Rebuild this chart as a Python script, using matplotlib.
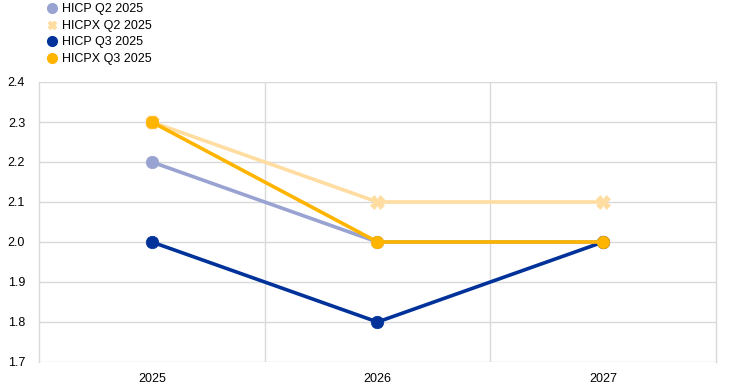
import matplotlib
matplotlib.use("Agg")
import matplotlib.pyplot as plt
from matplotlib.lines import Line2D

plt.rcParams['font.family'] = ['Liberation Sans', 'DejaVu Sans']

categories = ["2025", "2026", "2027"]
hicp_q2 = [2.2, 2.0, 2.0]
hicpx_q2 = [2.3, 2.1, 2.1]
hicp_q3 = [2.0, 1.8, 2.0]
hicpx_q3 = [2.3, 2.0, 2.0]
yticks = [1.7, 1.8, 1.9, 2.0, 2.1, 2.2, 2.3, 2.4]

series = [
    ("HICP Q2 2025", hicp_q2, "#99A3D1", "o"),
    ("HICPX Q2 2025", hicpx_q2, "#FFDCA0", "X"),
    ("HICP Q3 2025", hicp_q3, "#003299", "o"),
    ("HICPX Q3 2025", hicpx_q3, "#FFB400", "o"),
]

fig = plt.figure(figsize=(7.44, 3.90), dpi=100)
ax = fig.add_axes([39/744, 28/390, 677/744, 280/390])
x = list(range(len(categories)))
for name, vals, col, mk in series:
    ax.plot(x, vals, color=col, lw=2.6, marker=mk, ms=9 if mk == "o" else 10,
            markeredgewidth=0.5, markeredgecolor=col, zorder=3)

ax.set_xlim(-0.5, 2.5)
ax.set_ylim(1.7, 2.4)
ax.set_yticks(yticks)
ax.set_yticklabels([f"{v:.1f}" for v in yticks])
ax.set_xticks(x)
ax.set_xticklabels(categories)
ax.set_xticks([0.5, 1.5], minor=True)
ax.grid(False)
for v in yticks:
    ax.axhline(v, color="#D9D9D9", lw=1, zorder=1)
ax.grid(True, which="minor", axis="x", color="#D9D9D9", lw=1, zorder=1)
ax.tick_params(axis="both", which="both", length=0, labelsize=9, colors="black")
ax.tick_params(axis="x", pad=8)
ax.tick_params(axis="y", pad=10)
for s in ["top", "bottom"]:
    ax.spines[s].set_visible(False)
for s in ["left", "right"]:
    ax.spines[s].set_color("#D9D9D9")
    ax.spines[s].set_linewidth(1)

handles = [Line2D([], [], ls="none", marker=mk, color=col,
                  ms=7 if mk == "o" else 5.5) for _, _, col, mk in series]
fig.legend(handles, [s[0] for s in series], loc="upper left",
           bbox_to_anchor=(0.045, 1.02), frameon=False, fontsize=9,
           handletextpad=0.15, labelspacing=0.36, handlelength=1.2)

fig.savefig("out.png", dpi=100)
